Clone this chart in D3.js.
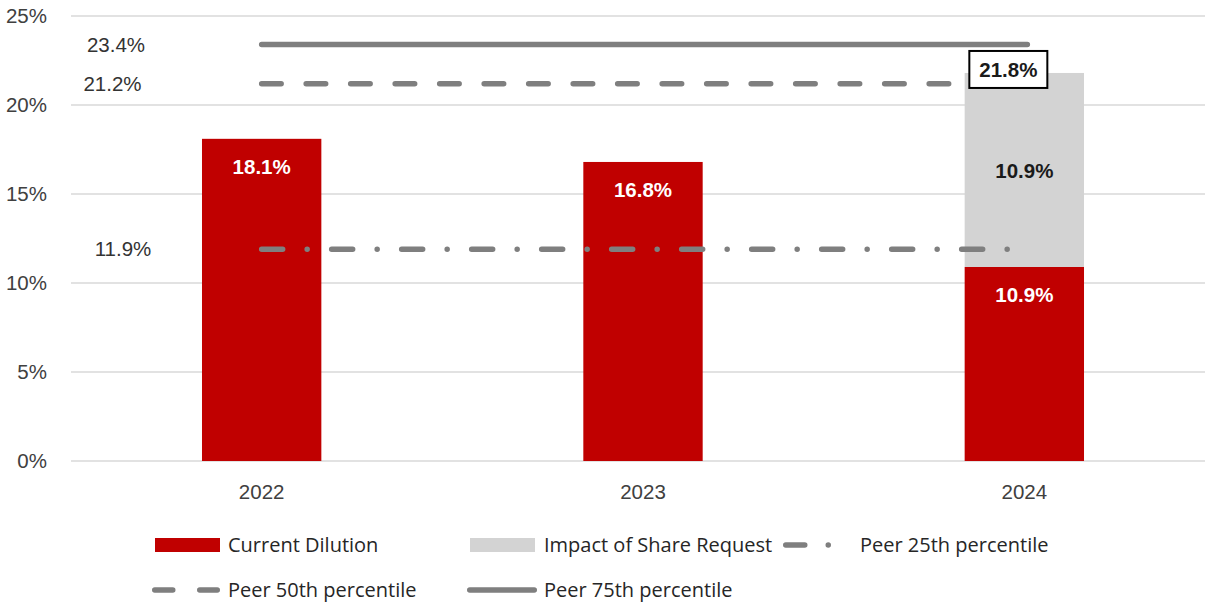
<!DOCTYPE html>
<html>
<head>
<meta charset="utf-8">
<script src="https://cdn.jsdelivr.net/npm/d3@7"></script>
<style>
  html, body { margin: 0; padding: 0; background: #fff; }
  svg { display: block; }
</style>
</head>
<body>
<div id="chart"></div>
<script>
// Dilution by year, with peer percentile benchmarks
const years = ["2022", "2023", "2024"];
const currentDilution = [18.1, 16.8, 10.9];
const shareRequestImpact = [0, 0, 10.9];
const totalWithRequest = [null, null, 21.8];
const peer25 = 11.9;
const peer50 = 21.2;
const peer75 = 23.4;
const yTicks = [0, 5, 10, 15, 20, 25];

const W = 1205, H = 606;
const margin = { top: 16, right: -10, bottom: 145, left: 71 };
const innerW = W - margin.left - margin.right;
const innerH = H - margin.top - margin.bottom;

const axisFont = "'Liberation Sans', Arial, sans-serif";
const legendFont = "'Open Sans', 'Liberation Sans', sans-serif";
const red = "#c00000";
const lightGray = "#d3d3d3";
const lineGray = "#7f7f7f";
const fs = 20.5;

const svg = d3.select("#chart").append("svg")
  .attr("width", W).attr("height", H);

const g = svg.append("g").attr("transform", `translate(${margin.left},${margin.top})`);

const x = d3.scaleBand().domain(years).range([0, innerW]).paddingInner(0.687).paddingOuter(0.3435);
const y = d3.scaleLinear().domain([0, 25]).range([innerH, 0]);

// gridlines
g.append("g").selectAll("line").data(yTicks).join("line")
  .attr("x1", 0).attr("x2", innerW)
  .attr("y1", d => y(d)).attr("y2", d => y(d))
  .attr("stroke", "#d9d9d9").attr("stroke-width", 1.3);

// y axis labels
const yAxis = d3.axisLeft(y).tickValues(yTicks).tickFormat(d => d + "%").tickSize(0).tickPadding(24);
const ya = g.append("g").call(yAxis);
ya.select(".domain").remove();
ya.selectAll("text").attr("font-family", axisFont).attr("font-size", fs).attr("fill", "#404040");

// x axis labels
const xAxis = d3.axisBottom(x).tickSize(0).tickPadding(23);
const xa = g.append("g").attr("transform", `translate(0,${innerH})`).call(xAxis);
xa.select(".domain").remove();
xa.selectAll("text").attr("font-family", axisFont).attr("font-size", fs).attr("fill", "#404040");

// stacked bars
const stackData = years.map((yr, i) => ({ year: yr, current: currentDilution[i], impact: shareRequestImpact[i] }));
const stack = d3.stack().keys(["current", "impact"])(stackData);
const colors = { current: red, impact: lightGray };

g.append("g").selectAll("g").data(stack).join("g")
  .attr("fill", d => colors[d.key])
  .selectAll("rect").data(d => d).join("rect")
  .attr("x", d => x(d.data.year))
  .attr("width", x.bandwidth())
  .attr("y", d => y(d[1]))
  .attr("height", d => y(d[0]) - y(d[1]));

// peer benchmark lines, drawn from the first to the last year
const cx = yr => x(yr) + x.bandwidth() / 2;
const x0 = cx(years[0]), x1 = cx(years[years.length - 1]);

const lineWidth = 5.5;
function peerLine(val, dash, extend) {
  g.append("line")
    .attr("x1", x0).attr("x2", x1 + (extend || 0))
    .attr("y1", y(val)).attr("y2", y(val))
    .attr("stroke", lineGray).attr("stroke-width", lineWidth)
    .attr("stroke-linecap", "round")
    .attr("stroke-dasharray", dash);
}
peerLine(peer75, null, 3);
peerLine(peer50, "19.5,25");
peerLine(peer25, "21,24.5,0,24.5");

// peer value labels at left
const peerLabels = [
  { v: peer75, x: 116 },
  { v: peer50, x: 112.5 },
  { v: peer25, x: 123 }
];
svg.append("g").selectAll("text").data(peerLabels).join("text")
  .attr("x", d => d.x)
  .attr("y", d => margin.top + y(d.v))
  .attr("dy", "0.35em")
  .attr("text-anchor", "middle")
  .attr("font-family", axisFont).attr("font-size", fs).attr("fill", "#333")
  .text(d => d.v.toFixed(1) + "%");

// value labels inside the red bars
g.append("g").selectAll("text").data(stackData).join("text")
  .attr("x", d => cx(d.year))
  .attr("y", d => y(d.current) + 28)
  .attr("dy", "0.35em")
  .attr("text-anchor", "middle")
  .attr("font-family", axisFont).attr("font-size", fs).attr("font-weight", "bold")
  .attr("fill", "#fff")
  .text(d => d.current.toFixed(1) + "%");

// value labels centred in the share request segment
g.append("g").selectAll("text").data(stackData.filter(d => d.impact > 0)).join("text")
  .attr("x", d => cx(d.year))
  .attr("y", d => y(d.current + d.impact / 2) + 1)
  .attr("dy", "0.35em")
  .attr("text-anchor", "middle")
  .attr("font-family", axisFont).attr("font-size", fs).attr("font-weight", "bold")
  .attr("fill", "#1a1a1a")
  .text(d => d.impact.toFixed(1) + "%");

// boxed total label
totalWithRequest.forEach((t, i) => {
  if (t == null) return;
  const tx = cx(years[i]) - 16;
  const ty = y(t) - 3;
  const box = g.append("g");
  box.append("rect")
    .attr("x", tx - 39).attr("y", ty - 19)
    .attr("width", 78).attr("height", 37)
    .attr("fill", "#fff").attr("stroke", "#000").attr("stroke-width", 2);
  box.append("text")
    .attr("x", tx).attr("y", ty)
    .attr("dy", "0.35em")
    .attr("text-anchor", "middle")
    .attr("font-family", axisFont).attr("font-size", fs).attr("font-weight", "bold")
    .attr("fill", "#1a1a1a")
    .text(t.toFixed(1) + "%");
});

// legend
const legend = svg.append("g").attr("font-family", legendFont).attr("font-size", 20).attr("fill", "#262626");
const legendItems = [
  { label: "Current Dilution", type: "rect", color: red, sx: 155, tx: 228, y: 545 },
  { label: "Impact of Share Request", type: "rect", color: lightGray, sx: 470, tx: 544, y: 545 },
  { label: "Peer 25th percentile", type: "dashdot", sx: 783, tx: 860, y: 545 },
  { label: "Peer 50th percentile", type: "dash", sx: 152, tx: 228, y: 590 },
  { label: "Peer 75th percentile", type: "solid", sx: 467, tx: 544, y: 590 }
];
legendItems.forEach(it => {
  if (it.type === "rect") {
    legend.append("rect").attr("x", it.sx).attr("y", it.y - 7).attr("width", 65).attr("height", 14).attr("fill", it.color);
  } else {
    let x2, dash = null;
    if (it.type === "solid") { x2 = it.sx + 70; }
    if (it.type === "dash") { x2 = it.sx + 68; dash = "18,27"; }
    if (it.type === "dashdot") { x2 = it.sx + 50; dash = "19,23.5,0,100"; }
    legend.append("line")
      .attr("x1", it.sx + 2.75).attr("x2", x2 - 2.75)
      .attr("y1", it.y).attr("y2", it.y)
      .attr("stroke", lineGray).attr("stroke-width", lineWidth)
      .attr("stroke-linecap", "round")
      .attr("stroke-dasharray", dash);
  }
  legend.append("text").attr("x", it.tx).attr("y", it.y).attr("dy", "0.35em").text(it.label);
});
</script>
</body>
</html>
